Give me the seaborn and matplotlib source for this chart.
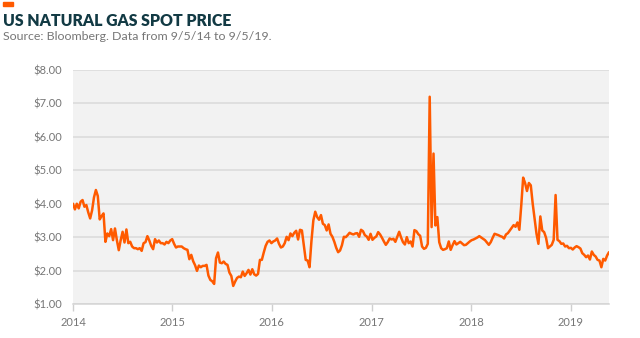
import matplotlib
matplotlib.use("Agg")
import matplotlib.pyplot as plt
import matplotlib.dates as mdates
from matplotlib.patches import Rectangle
from matplotlib.ticker import FixedLocator, FuncFormatter
import pandas as pd
import seaborn as sns

# Weekly spot price, USD per MMBtu
prices = [
    4.00, 3.83, 4.00, 3.86, 4.06, 4.11, 3.91, 3.96, 3.74, 3.56,
    3.80, 4.19, 4.41, 4.23, 3.53, 3.63, 3.71, 2.86, 3.11, 3.03,
    3.24, 2.91, 3.26, 2.91, 2.61, 2.91, 3.16, 2.84, 3.23, 2.82,
    2.86, 2.72, 2.67, 2.67, 2.64, 2.67, 2.59, 2.82, 2.85, 3.03,
    2.90, 2.74, 2.64, 2.94, 2.84, 2.90, 2.82, 2.82, 2.78, 2.86,
    2.82, 2.90, 2.94, 2.80, 2.69, 2.72, 2.72, 2.72, 2.67, 2.64,
    2.62, 2.34, 2.47, 2.28, 2.16, 1.99, 2.15, 2.10, 2.14, 2.14,
    2.17, 1.85, 1.72, 1.68, 1.60, 2.37, 2.54, 2.24, 2.22, 2.27,
    2.20, 2.17, 1.94, 1.84, 1.54, 1.67, 1.78, 1.82, 1.80, 1.97,
    1.84, 1.92, 2.02, 1.88, 2.04, 1.89, 1.85, 1.90, 2.32, 2.32,
    2.54, 2.74, 2.86, 2.90, 2.82, 2.87, 2.90, 2.96, 2.80, 2.69,
    2.72, 2.82, 3.01, 2.91, 3.11, 3.03, 3.13, 3.19, 2.93, 3.22,
    3.20, 2.75, 2.32, 2.30, 2.10, 2.88, 3.50, 3.76, 3.60, 3.52,
    3.66, 3.40, 3.36, 3.20, 3.38, 3.10, 3.01, 2.86, 2.68, 2.55,
    2.60, 2.76, 3.01, 3.00, 3.06, 3.13, 3.10, 3.08, 3.11, 3.12,
    3.01, 3.22, 3.18, 3.06, 3.02, 2.92, 3.10, 2.92, 2.98, 3.02,
    3.15, 3.08, 2.98, 2.87, 2.77, 2.85, 2.96, 2.93, 2.95, 2.86,
    3.01, 3.16, 2.99, 2.85, 2.78, 3.00, 2.82, 2.87, 2.72, 3.21,
    3.18, 3.09, 3.04, 2.72, 2.65, 2.68, 2.80, 7.20, 3.30, 5.50,
    3.35, 3.60, 2.85, 2.67, 2.62, 2.64, 2.67, 2.87, 2.62, 2.76,
    2.88, 2.78, 2.82, 2.86, 2.81, 2.76, 2.77, 2.82, 2.87, 2.91,
    2.93, 2.96, 2.99, 3.03, 2.99, 2.95, 2.91, 2.84, 2.77, 2.85,
    2.98, 3.10, 3.08, 3.06, 3.03, 3.01, 2.96, 3.08, 3.12, 3.20,
    3.28, 3.36, 3.31, 3.44, 3.22, 3.95, 4.78, 4.62, 4.38, 4.62,
    4.55, 4.00, 3.55, 3.10, 2.80, 3.62, 3.20, 3.15, 2.98, 2.67,
    2.72, 2.77, 2.92, 4.26, 2.92, 2.88, 2.80, 2.81, 2.72, 2.74,
    2.67, 2.68, 2.63, 2.69, 2.73, 2.70, 2.66, 2.52, 2.47, 2.40,
    2.45, 2.33, 2.57, 2.47, 2.42, 2.32, 2.30, 2.10, 2.35, 2.30,
    2.45, 2.55,
]
start_date = "2014-01-01"
price_ticks = [1, 2, 3, 4, 5, 6, 7, 8]
title = "US NATURAL GAS SPOT PRICE"
subtitle = "Source: Bloomberg. Data from 9/5/14 to 9/5/19."

LINE = "#ff5a00"
GREY_TEXT = "#767676"
TITLE_COL = "#123a44"

sns.set_theme(style="white")
plt.rcParams["font.family"] = ["Lato", "DejaVu Sans"]

dates = pd.date_range(start_date, periods=len(prices), freq="7D")
df = pd.DataFrame({"date": dates, "price": prices})

fig = plt.figure(figsize=(6.4, 3.38), dpi=100)
ax = fig.add_axes([73 / 640, 1 - 304 / 338, (609 - 73) / 640, (304 - 70) / 338])
ax.set_facecolor("#f2f2f2")

sns.lineplot(data=df, x="date", y="price", ax=ax, color=LINE, linewidth=1.8)

ax.set_ylim(price_ticks[0], price_ticks[-1])
ax.set_xlim(dates[0], dates[-1])
ax.yaxis.set_major_locator(FixedLocator(price_ticks))
ax.yaxis.set_major_formatter(FuncFormatter(lambda v, _: f"${v:.2f}"))
ax.xaxis.set_major_locator(mdates.YearLocator())
ax.xaxis.set_major_formatter(mdates.DateFormatter("%Y"))
ax.grid(axis="y", color="#dadada", linewidth=1.1)
ax.grid(axis="x", visible=False)
ax.set_axisbelow(True)
for side in ["top", "right", "left"]:
    ax.spines[side].set_visible(False)
ax.spines["bottom"].set_color("#d4d4d4")
ax.spines["bottom"].set_linewidth(1.1)
ax.tick_params(axis="x", length=5, width=1, color="#cfcfcf", pad=4,
               labelsize=8, labelcolor=GREY_TEXT, bottom=True)
ax.tick_params(axis="y", length=0, pad=8, labelsize=8, labelcolor=GREY_TEXT)
ax.set_xlabel("")
ax.set_ylabel("")

# Header: accent bar, title and source line
fig.patches.append(Rectangle((3 / 640, 1 - 5.5 / 338), 10 / 640, 3.5 / 338,
                             transform=fig.transFigure, color=LINE))
fig.text(3 / 640, 1 - 25.5 / 338, title, fontsize=11.4, fontweight="heavy",
         color=TITLE_COL, va="baseline", ha="left")
fig.text(3 / 640, 1 - 40.5 / 338, subtitle, fontsize=8.9, color=GREY_TEXT,
         va="baseline", ha="left")

fig.savefig("out.png", dpi=100, facecolor="white")
